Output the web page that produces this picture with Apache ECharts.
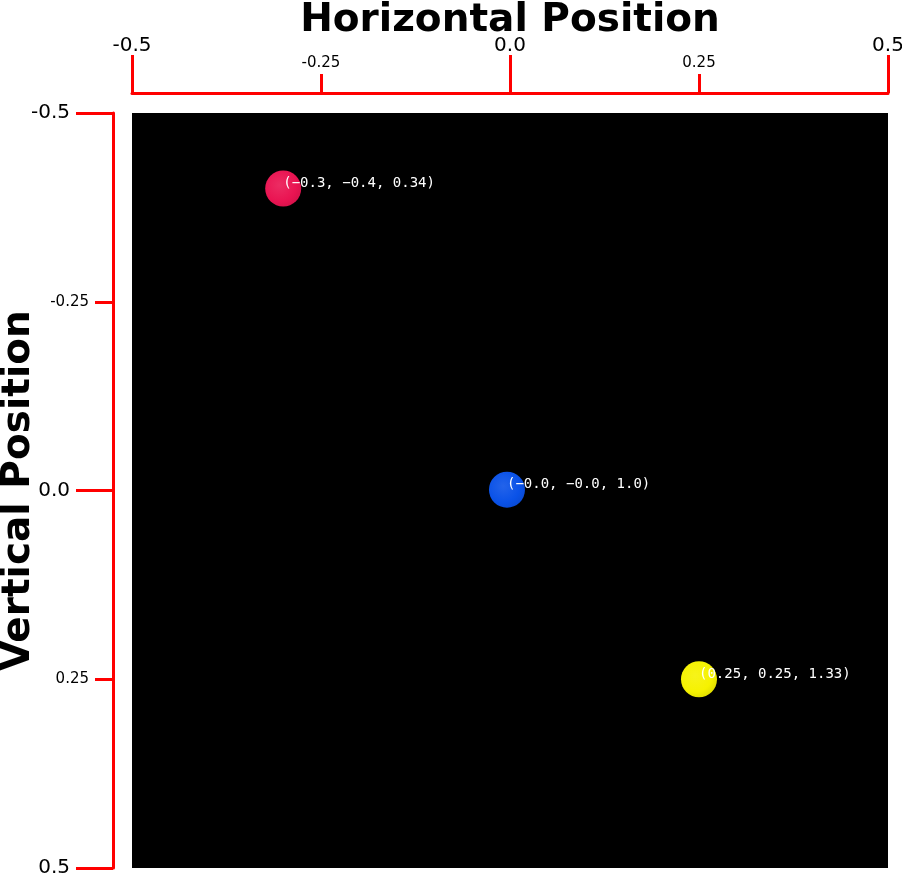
<!DOCTYPE html>
<html>
<head>
<meta charset="utf-8">
<script src="https://cdn.jsdelivr.net/npm/echarts@6/dist/echarts.min.js"></script>
<style>html,body{margin:0;padding:0;background:#fff;}#c{width:902px;height:876px;}</style>
</head>
<body>
<div id="c"></div>
<script>
// ---- data ----
const pointX = [-0.3, -0.004, 0.25];
const pointY = [-0.4, -0.001, 0.25];
const pointZ = [0.34, 1.0, 1.33];
const pointLabels = ['(\u22120.3, \u22120.4, 0.34)', '(\u22120.0, \u22120.0, 1.0)', '(0.25, 0.25, 1.33)'];
const pointColors = ['#ea1452', '#0a52e8', '#f6f200'];
const majorTicks = [-0.5, 0.0, 0.5];
const minorTicks = [-0.25, 0.25];
const xTitle = 'Horizontal Position';
const yTitle = 'Vertical Position';

const FONT = 'DejaVu Sans';
const RED = '#ff0000';

function majorFmt(v){ return majorTicks.some(t=>Math.abs(t-v)<1e-9) ? v.toFixed(1) : ''; }
function minorFmt(v){ return minorTicks.some(t=>Math.abs(t-v)<1e-9) ? v.toFixed(2) : ''; }

function lighten(hex, f){
  const n = parseInt(hex.slice(1),16);
  let r=(n>>16)&255,g=(n>>8)&255,b=n&255;
  r=Math.round(r+(255-r)*f); g=Math.round(g+(255-g)*f); b=Math.round(b+(255-b)*f);
  return 'rgb('+r+','+g+','+b+')';
}
function darken(hex, f){
  const n = parseInt(hex.slice(1),16);
  let r=(n>>16)&255,g=(n>>8)&255,b=n&255;
  return 'rgb('+Math.round(r*f)+','+Math.round(g*f)+','+Math.round(b*f)+')';
}

const data = pointX.map((x,i)=>({
  value:[x, pointY[i], pointZ[i]],
  label:{formatter: pointLabels[i]},
  itemStyle:{
    opacity:1,
    color:{type:'radial', x:0.4, y:0.4, r:0.65, colorStops:[
      {offset:0, color: lighten(pointColors[i],0.1)},
      {offset:0.7, color: pointColors[i]},
      {offset:1, color: darken(pointColors[i],0.92)}
    ]}
  }
}));

function axisBase(){
  return {
    min:-0.5, max:0.5,
    splitLine:{show:false},
  };
}

const chart = echarts.init(document.getElementById('c'), null, {renderer:'canvas'});
chart.setOption({
  animation:false,
  backgroundColor:'#ffffff',
  grid:{left:132, right:14, top:113, bottom:8, show:true, backgroundColor:'#000000', borderWidth:0,
        containLabel:false, outerBoundsMode:'none'},
  xAxis:[
    Object.assign(axisBase(), {
      type:'value', position:'top', offset:20, interval:0.5,
      axisLine:{show:true, onZero:false, lineStyle:{color:RED, width:3}},
      axisTick:{show:true, length:38, lineStyle:{color:RED, width:3}},
      axisLabel:{formatter:majorFmt, fontSize:20, fontFamily:FONT, color:'#000', margin:37, showMinLabel:true, showMaxLabel:true},
      name:xTitle, nameLocation:'middle', nameGap:53, nameMoveOverlap:false,
      nameTextStyle:{fontSize:39, fontWeight:'bold', fontFamily:FONT, color:'#000'}
    }),
    Object.assign(axisBase(), {
      type:'value', position:'top', offset:20, interval:0.25,
      axisLine:{show:false, onZero:false},
      axisTick:{show:true, length:19, lineStyle:{color:RED, width:3}},
      axisLabel:{formatter:minorFmt, fontSize:15, fontFamily:FONT, color:'#000', margin:22}
    })
  ],
  yAxis:[
    Object.assign(axisBase(), {
      type:'value', position:'left', offset:19, interval:0.5, inverse:true,
      axisLine:{show:true, onZero:false, lineStyle:{color:RED, width:3}},
      axisTick:{show:true, length:37, lineStyle:{color:RED, width:3}},
      axisLabel:{formatter:majorFmt, fontSize:20, fontFamily:FONT, color:'#000', margin:43, showMinLabel:true, showMaxLabel:true},
      name:yTitle, nameLocation:'middle', nameGap:75, nameMoveOverlap:false,
      nameTextStyle:{fontSize:39, fontWeight:'bold', fontFamily:FONT, color:'#000'}
    }),
    Object.assign(axisBase(), {
      type:'value', position:'left', offset:19, interval:0.25, inverse:true,
      axisLine:{show:false, onZero:false},
      axisTick:{show:true, length:18, lineStyle:{color:RED, width:3}},
      axisLabel:{formatter:minorFmt, fontSize:15, fontFamily:FONT, color:'#000', margin:24}
    })
  ],
  series:[{
    type:'scatter',
    xAxisIndex:0, yAxisIndex:0,
    symbol:'circle', symbolSize:36,
    data:data,
    label:{show:true, position:[18,6], align:'left', verticalAlign:'top',
      color:'#ffffff', fontSize:14, fontFamily:'DejaVu Sans Mono'},
    emphasis:{disabled:true}
  }]
});
</script>
</body>
</html>
